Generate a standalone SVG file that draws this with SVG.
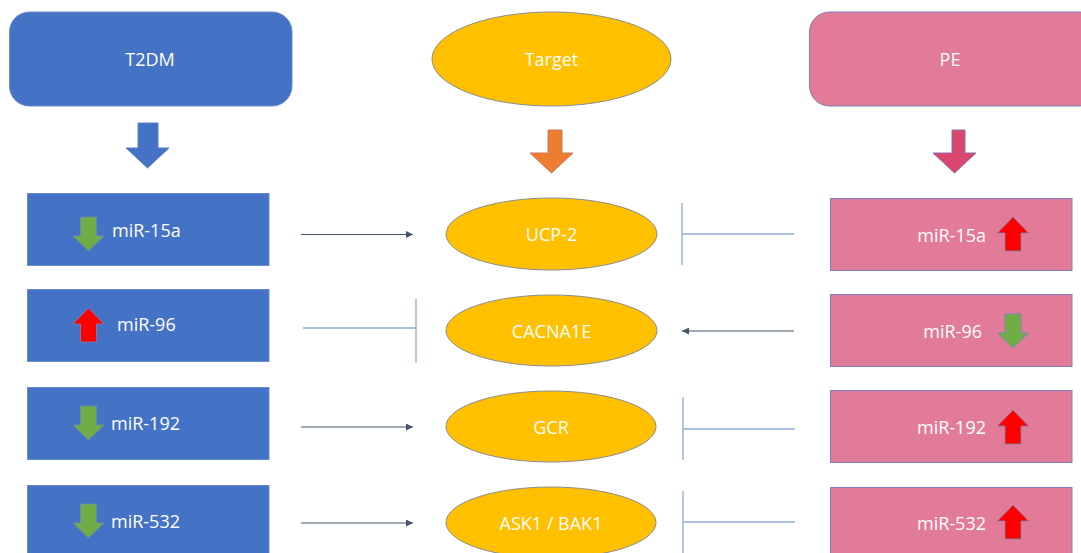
<svg xmlns="http://www.w3.org/2000/svg" width="1081" height="553" viewBox="0 0 1081 553">
  <defs>
    <style>
      .lbl { font-family: "Open Sans", "Liberation Sans", sans-serif; font-size: 18px; fill: #ffffff; dominant-baseline: central; }
      .blue { fill: #4472C4; stroke: #6A8CCB; stroke-width: 1; }
      .pink { fill: #E27B97; stroke: #7F7FBF; stroke-width: 1; }
      .gold { fill: #FFC000; stroke: #8C8C8C; stroke-width: 1; }
      .up { fill: #FF0000; stroke: #7A86B0; stroke-width: 0.8; }
      .down { fill: #70AD47; stroke: #6A8CB0; stroke-width: 0.8; }
      .act { stroke: #44546A; stroke-width: 1; fill: none; }
      .inh { stroke: #8FAADC; stroke-width: 1.3; fill: none; }
    </style>
    <marker id="tip" viewBox="0 0 10 10" refX="10" refY="5" markerWidth="7" markerHeight="7" markerUnits="userSpaceOnUse" orient="auto">
      <path d="M0,0 L10,5 L0,10 Z" fill="#44546A"/>
    </marker>
    <!-- block arrows, drawn with their tip at the origin -->
    <path id="downArrow" d="M-8,-34 H8 V-15 H15.5 L0,0 L-15.5,-15 H-8 Z"/>
    <path id="upArrow" d="M-8,34 H8 V16 H15.5 L0,0 L-15.5,16 H-8 Z"/>
  </defs>

  <!-- column headers -->
  <g id="t2dm">
    <rect class="blue" x="9.5" y="12" width="282.5" height="94" rx="20"/>
    <text class="lbl" x="150" y="59" text-anchor="middle">T2DM</text>
  </g>
  <g id="target">
    <ellipse class="gold" cx="551.5" cy="59" rx="119.5" ry="47"/>
    <text class="lbl" x="551.5" y="59" text-anchor="middle">Target</text>
  </g>
  <g id="pe">
    <rect class="pink" x="809.5" y="12" width="290" height="94" rx="20"/>
    <text class="lbl" x="950" y="59" text-anchor="middle">PE</text>
  </g>

  <!-- column arrows -->
  <g id="t2dm-arrow">
    <path d="M138,123 H158 V148 H169 L147.5,168 L126,148 H138 Z" fill="#4472C4" stroke="#5B80C6" stroke-width="1"/>
  </g>
  <g id="target-arrow">
    <path d="M548,130 H562 V153 H573 L551.5,173 L530,153 H548 Z" fill="#ED7D31" stroke="#C97A5A" stroke-width="1"/>
  </g>
  <g id="pe-arrow">
    <path d="M952,130 H965 V153 H976 L954.5,173 L933,153 H952 Z" fill="#D9476F" stroke="#8E6FAF" stroke-width="1"/>
  </g>

  <!-- T2DM miRNAs -->
  <g id="t2dm-mir15a">
    <rect class="blue" x="27.5" y="193.5" width="241.5" height="72"/>
    <use href="#downArrow" class="down" x="88.5" y="251"/>
    <text class="lbl" x="112" y="230">miR-15a</text>
  </g>
  <g id="t2dm-mir96">
    <rect class="blue" x="27.5" y="289.5" width="241.5" height="72"/>
    <use href="#upArrow" class="up" x="88.5" y="308"/>
    <text class="lbl" x="117" y="324">miR-96</text>
  </g>
  <g id="t2dm-mir192">
    <rect class="blue" x="27.5" y="387.5" width="241.5" height="72"/>
    <use href="#downArrow" class="down" x="88.5" y="440"/>
    <text class="lbl" x="111" y="423">miR-192</text>
  </g>
  <g id="t2dm-mir532">
    <rect class="blue" x="27.5" y="485.5" width="241.5" height="72"/>
    <use href="#downArrow" class="down" x="88.5" y="538"/>
    <text class="lbl" x="111" y="521">miR-532</text>
  </g>

  <!-- targets -->
  <g id="ucp2">
    <ellipse class="gold" cx="551.5" cy="234" rx="105.5" ry="36"/>
    <text class="lbl" x="551.5" y="234" text-anchor="middle">UCP-2</text>
  </g>
  <g id="cacna1e">
    <ellipse class="gold" cx="551.5" cy="330.5" rx="105.5" ry="35.5"/>
    <text class="lbl" x="551.5" y="330.5" text-anchor="middle">CACNA1E</text>
  </g>
  <g id="gcr">
    <ellipse class="gold" cx="551" cy="426.5" rx="105" ry="35.5"/>
    <text class="lbl" x="551" y="426.5" text-anchor="middle">GCR</text>
  </g>
  <g id="ask1-bak1">
    <ellipse class="gold" cx="551" cy="522.5" rx="105" ry="35.5"/>
    <text class="lbl" x="551" y="522.5" text-anchor="middle">ASK1 / BAK1</text>
  </g>

  <!-- PE miRNAs -->
  <g id="pe-mir15a">
    <rect class="pink" x="830.5" y="198.5" width="241.5" height="72"/>
    <text class="lbl" x="986" y="235" text-anchor="end">miR-15a</text>
    <use href="#upArrow" class="up" x="1013" y="217"/>
  </g>
  <g id="pe-mir96">
    <rect class="pink" x="830.5" y="294.5" width="241.5" height="72"/>
    <text class="lbl" x="982" y="331" text-anchor="end">miR-96</text>
    <use href="#downArrow" class="down" x="1013" y="348"/>
  </g>
  <g id="pe-mir192">
    <rect class="pink" x="830.5" y="390.5" width="241.5" height="72"/>
    <text class="lbl" x="986" y="427" text-anchor="end">miR-192</text>
    <use href="#upArrow" class="up" x="1013" y="410"/>
  </g>
  <g id="pe-mir532">
    <rect class="pink" x="830.5" y="487.5" width="241.5" height="72"/>
    <text class="lbl" x="986" y="523" text-anchor="end">miR-532</text>
    <use href="#upArrow" class="up" x="1013" y="505"/>
  </g>

  <!-- connectors: activation (arrow) and inhibition (bar) -->
  <g id="connectors">
    <line class="act" x1="301" y1="234.5" x2="413" y2="234.5" marker-end="url(#tip)"/>
    <path class="inh" d="M303,328 H416 M416,299 V363"/>
    <line class="act" x1="301" y1="427" x2="413" y2="427" marker-end="url(#tip)"/>
    <line class="act" x1="301" y1="523" x2="413" y2="523" marker-end="url(#tip)"/>

    <path class="inh" d="M794,234 H682 M682,203 V265"/>
    <line class="act" x1="794" y1="331" x2="682" y2="331" marker-end="url(#tip)"/>
    <path class="inh" d="M795,429 H683 M683,397 V460"/>
    <path class="inh" d="M795,522 H683 M683,491 V560"/>
  </g>
</svg>
